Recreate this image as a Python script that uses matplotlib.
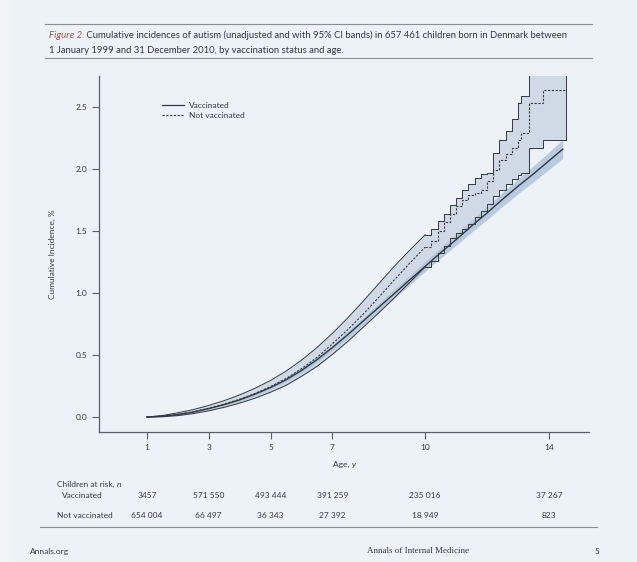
import matplotlib
matplotlib.use("Agg")
import matplotlib.pyplot as plt
from matplotlib.lines import Line2D
from matplotlib.patches import Rectangle

plt.rcParams['font.family'] = ['Lato', 'DejaVu Sans']

# vaccinated children: cumulative incidence (%) with 95% CI
vacc_age = [1.0, 1.5, 2.0, 2.5, 3.0, 3.5, 4.0, 4.5, 5.0, 5.5, 6.0, 6.5, 7.0, 7.5,
            8.0, 8.5, 9.0, 9.5, 10.0, 10.5, 11.0, 11.5, 12.0, 12.5, 13.0, 13.5,
            14.0, 14.45]
vacc_ci = [0.000, 0.006, 0.020, 0.040, 0.068, 0.100, 0.138, 0.185, 0.238, 0.300,
           0.375, 0.462, 0.560, 0.665, 0.775, 0.885, 0.995, 1.105, 1.215, 1.325,
           1.430, 1.540, 1.645, 1.755, 1.860, 1.960, 2.065, 2.160]
vacc_lo = [0.000, 0.004, 0.016, 0.034, 0.060, 0.090, 0.126, 0.171, 0.222, 0.282,
           0.355, 0.440, 0.536, 0.638, 0.746, 0.853, 0.960, 1.067, 1.175, 1.282,
           1.384, 1.490, 1.592, 1.698, 1.800, 1.895, 1.995, 2.085]
vacc_hi = [0.000, 0.008, 0.024, 0.046, 0.076, 0.110, 0.150, 0.199, 0.254, 0.318,
           0.395, 0.484, 0.584, 0.692, 0.804, 0.917, 1.030, 1.143, 1.255, 1.368,
           1.476, 1.590, 1.698, 1.812, 1.920, 2.025, 2.135, 2.235]

# not vaccinated children, ages 1-10 (dense follow-up, drawn as a curve)
unv_age_a = [1.0, 1.5, 2.0, 2.5, 3.0, 3.5, 4.0, 4.5, 5.0, 5.5, 6.0, 6.5, 7.0,
             7.5, 8.0, 8.5, 9.0, 9.5, 10.0]
unv_ci_a = [0.000, 0.006, 0.021, 0.042, 0.070, 0.104, 0.143, 0.190, 0.245, 0.310,
            0.390, 0.480, 0.590, 0.705, 0.830, 0.965, 1.105, 1.240, 1.370]
unv_lo_a = [0.000, 0.002, 0.011, 0.027, 0.050, 0.078, 0.112, 0.152, 0.200, 0.255,
            0.328, 0.408, 0.505, 0.610, 0.725, 0.840, 0.960, 1.085, 1.210]
unv_hi_a = [0.000, 0.012, 0.034, 0.060, 0.093, 0.132, 0.178, 0.232, 0.295, 0.370,
            0.458, 0.560, 0.675, 0.800, 0.935, 1.075, 1.215, 1.345, 1.470]

# not vaccinated children, ages 10-14.5 (few at risk, visible steps)
unv_age_b = [10.0, 10.2, 10.4, 10.6, 10.8, 11.0, 11.2, 11.4, 11.6, 11.8, 12.0,
             12.2, 12.4, 12.6, 12.8, 13.0, 13.1, 13.37, 13.8, 14.55]
unv_ci_b = [1.370, 1.420, 1.500, 1.570, 1.640, 1.700, 1.750, 1.790, 1.810, 1.830,
            1.900, 1.990, 2.070, 2.120, 2.170, 2.230, 2.290, 2.530, 2.640, 2.640]
unv_lo_b = [1.210, 1.260, 1.320, 1.380, 1.440, 1.480, 1.520, 1.560, 1.610, 1.660,
            1.720, 1.780, 1.830, 1.880, 1.920, 1.950, 1.970, 2.170, 2.230, 2.230]
unv_hi_b = [1.470, 1.520, 1.580, 1.640, 1.710, 1.770, 1.830, 1.880, 1.930, 1.960,
            1.970, 2.130, 2.230, 2.310, 2.400, 2.530, 2.590, 3.000, 3.000, 3.000]

# children at risk
risk_ages = [1, 3, 5, 7, 10, 14]
risk_vacc = ['3457', '571 550', '493 444', '391 259', '235 016', '37 267']
risk_unv = ['654 004', '66 497', '36 343', '27 392', '18 949', '823']

ink = '#33373f'
W, H = 637, 562
fig = plt.figure(figsize=(W / 100, H / 100), dpi=100, facecolor='#edf2f7')
fig.patches.append(Rectangle((0, 0), 13 / W, 1, transform=fig.transFigure,
                             color='#f2f3f4', zorder=-1))


def fx(px):
    return px / W


def fy(py):
    return 1 - py / H


ax = fig.add_axes([fx(99), fy(432), fx(589) - fx(99), fy(76) - fy(432)])
ax.set_facecolor('none')

band = '#d0dae6'
ax.fill_between(unv_age_a, unv_lo_a, unv_hi_a, color=band, lw=0)
ax.fill_between(unv_age_b, unv_lo_b, unv_hi_b, step='post', color=band, lw=0)
ax.fill_between(vacc_age, vacc_lo, vacc_hi, color='#b3c6dc', lw=0, alpha=0.9)

ax.plot(unv_age_a, unv_lo_a, color=ink, lw=0.7)
ax.plot(unv_age_a, unv_hi_a, color=ink, lw=0.7)
ax.step(unv_age_b, unv_lo_b, where='post', color=ink, lw=0.7)
ax.step(unv_age_b, unv_hi_b, where='post', color=ink, lw=0.7)
ax.plot([unv_age_b[-1], unv_age_b[-1]], [unv_lo_b[-1], unv_hi_b[-1]],
        color=ink, lw=0.7)

ax.plot(vacc_age, vacc_ci, color=ink, lw=1.0)
dash = (0, (2, 1.4))
ax.plot(unv_age_a, unv_ci_a, color=ink, lw=0.8, ls=dash)
ax.step(unv_age_b, unv_ci_b, where='post', color=ink, lw=0.8, ls=dash)

ax.set_xlim(-0.55, 15.3)
ax.set_ylim(-0.121, 2.75)
ax.set_xticks(risk_ages)
ax.set_yticks([0.0, 0.5, 1.0, 1.5, 2.0, 2.5])
ax.set_yticklabels(['0.0', '0.5', '1.0', '1.5', '2.0', '2.5'])
for s in ['top', 'right']:
    ax.spines[s].set_visible(False)
for s in ['left', 'bottom']:
    ax.spines[s].set_color('#5a5e66')
    ax.spines[s].set_linewidth(0.9)
ax.tick_params(axis='both', colors='#5a5e66', labelcolor=ink, labelsize=6,
               length=5, width=0.8, direction='out')
ax.tick_params(axis='x', pad=4)

ax.set_ylabel('Cumulative Incidence, %', fontsize=6, color=ink, labelpad=14)

handles = [Line2D([], [], color=ink, lw=0.9),
           Line2D([], [], color=ink, lw=0.8, ls=dash)]
ax.legend(handles, ['Vaccinated', 'Not vaccinated'], loc='upper left',
          bbox_to_anchor=(0.12, 0.94), frameon=False, fontsize=6,
          handlelength=2.6, handletextpad=0.6, labelspacing=0.45,
          borderpad=0, labelcolor=ink)

# x axis title, with italic unit
t = fig.text(fx(333), fy(467), 'Age, ', fontsize=6, color=ink)
ax.annotate('y', xy=(1, 0), xycoords=t, va='bottom', fontsize=6,
            color=ink, style='italic')

# at-risk table
t = fig.text(fx(57), fy(487), 'Children at risk, ', fontsize=6, color=ink)
ax.annotate('n', xy=(1, 0), xycoords=t, va='bottom', fontsize=6,
            color=ink, style='italic')
fig.text(fx(62), fy(498), 'Vaccinated', fontsize=6, color=ink)
fig.text(fx(57), fy(518), 'Not vaccinated', fontsize=6, color=ink)
tr = ax.get_xaxis_transform()
for a, v, u in zip(risk_ages, risk_vacc, risk_unv):
    ax.text(a, (432 - 495) / 356, v, transform=tr, ha='center', va='center',
            fontsize=6, color=ink)
    ax.text(a, (432 - 515) / 356, u, transform=tr, ha='center', va='center',
            fontsize=6, color=ink)

# caption with rules
fig.add_artist(Line2D([fx(45), fx(592)], [fy(24), fy(24)], color='#8a8d92', lw=0.8))
fig.add_artist(Line2D([fx(45), fx(592)], [fy(58), fy(58)], color='#8a8d92', lw=0.8))
t = fig.text(fx(49), fy(38), 'Figure 2.', fontsize=7, color='#9c5a4c',
             style='italic')
ax.annotate(' Cumulative incidences of autism (unadjusted and with 95% CI bands) '
            'in 657 461 children born in Denmark between',
            xy=(1, 0), xycoords=t, va='bottom', fontsize=6.8, color=ink)
fig.text(fx(49), fy(53), '1 January 1999 and 31 December 2010, by vaccination '
         'status and age.', fontsize=6.8, color=ink)

fig.add_artist(Line2D([fx(40), fx(597)], [fy(527), fy(527)], color='#8a8d92', lw=0.8))
fig.text(fx(30), fy(554), 'Annals.org', fontsize=6, color=ink)
fig.text(fx(418), fy(553), 'Annals of Internal Medicine', fontsize=6.5,
         color=ink, ha='center', family='Liberation Serif')
fig.text(fx(597), fy(554), '5', fontsize=6, color=ink, ha='center')

fig.savefig('out.png', dpi=100, facecolor=fig.get_facecolor())
